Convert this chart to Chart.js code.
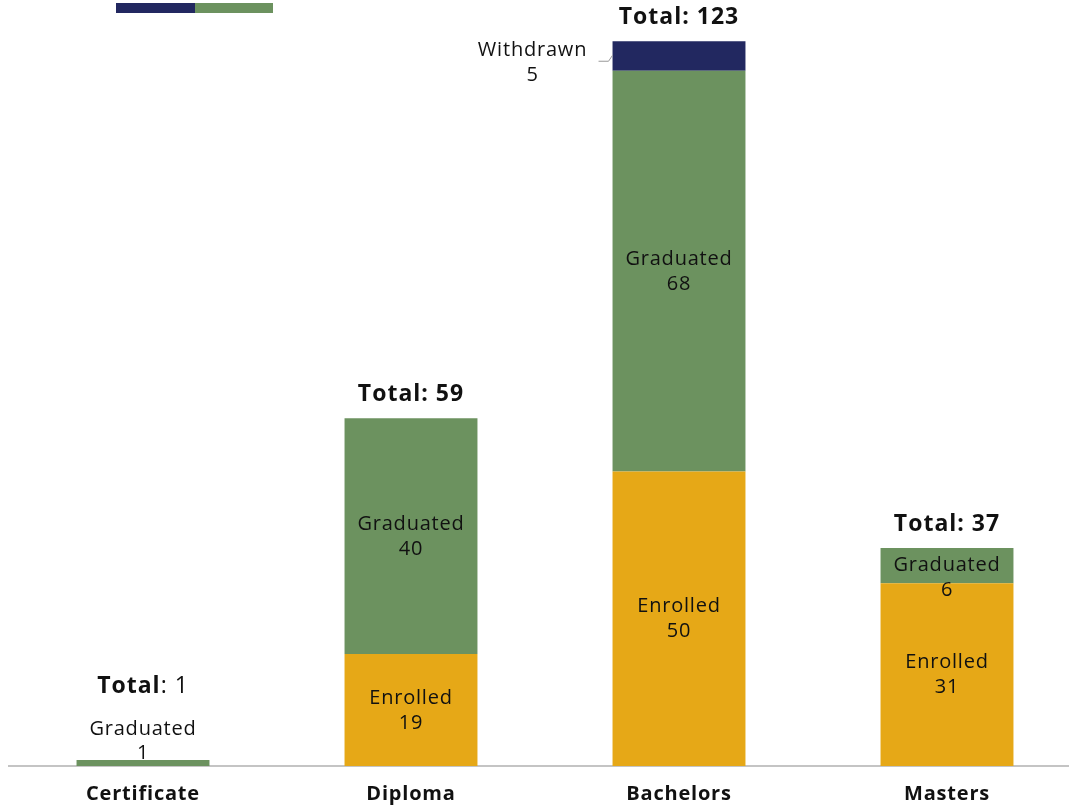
<!DOCTYPE html>
<html>
<head>
<meta charset="utf-8">
<script src="https://cdn.jsdelivr.net/npm/chart.js@4/dist/chart.umd.min.js"></script>
<style>
  html, body { margin:0; padding:0; background:#fff; overflow:hidden; }
  #wrap { width:1090px; height:806px; }
</style>
</head>
<body>
<div id="wrap"><canvas id="grafico"></canvas></div>
<script>
const categorias = ['Certificate','Diploma','Bachelors','Masters'];
const enrolled   = [0, 19, 50, 31];
const graduated  = [1, 40, 68, 6];
const withdrawn  = [0, 0, 5, 0];
const yMax = 130;

const cores = { enrolled:'#E6A817', graduated:'#6C925F', withdrawn:'#222860' };
const fonte = '"Open Sans", sans-serif';

// espacamento das letras (fonte original e mais larga)
const espaco = {
  id:'espaco',
  beforeDraw(chart){ chart.ctx.letterSpacing = '0.8px'; }
};

// rotulos dentro das barras + totais
const rotulos = {
  id:'rotulos',
  afterDatasetsDraw(chart){
    const ctx = chart.ctx;
    ctx.save();
    ctx.textAlign = 'center';
    ctx.textBaseline = 'middle';
    ctx.letterSpacing = '0.8px';
    chart.data.datasets.forEach((ds, di) => {
      const meta = chart.getDatasetMeta(di);
      meta.data.forEach((bar, i) => {
        const v = ds.data[i];
        if (!v) return;
        ctx.font = '20px ' + fonte;
        ctx.fillStyle = '#111';
        const alto = bar.base - bar.y;
        if (ds.label === 'Withdrawn') {
          // fora da barra, com linha guia
          const xl = bar.x - bar.width/2;
          ctx.strokeStyle = '#999';
          ctx.lineWidth = 1;
          ctx.beginPath();
          ctx.moveTo(xl - 14, bar.y + 20);
          ctx.lineTo(xl - 4, bar.y + 20);
          ctx.lineTo(xl, bar.y + 14);
          ctx.stroke();
          ctx.fillText(ds.label, xl - 80, bar.y + 9);
          ctx.fillText(v, xl - 80, bar.y + 34);
        } else if (alto < 20) {
          ctx.fillText(ds.label, bar.x, bar.y - 31);
          ctx.fillText(v, bar.x, bar.y - 7);
        } else if (alto < 60) {
          ctx.fillText(ds.label, bar.x, bar.y + alto/2);
          ctx.fillText(v, bar.x, bar.y + alto/2 + 25);
        } else {
          const c = bar.y + alto/2;
          ctx.fillText(ds.label, bar.x, c - 12);
          ctx.fillText(v, bar.x, c + 13);
        }
      });
    });
    // totais
    ctx.letterSpacing = '1px';
    categorias.forEach((c, i) => {
      const total = enrolled[i] + graduated[i] + withdrawn[i];
      const x = chart.scales.x.getPixelForValue(i);
      let y = chart.scales.y.getPixelForValue(total) - 24;
      if (total < 5) {
        y -= 50;
        ctx.font = 'bold 23px ' + fonte;
        const w1 = ctx.measureText('Total').width;
        ctx.font = '23px ' + fonte;
        const w2 = ctx.measureText(': ' + total).width;
        const x0 = x - (w1 + w2)/2;
        ctx.textAlign = 'left';
        ctx.font = 'bold 23px ' + fonte;
        ctx.fillText('Total', x0, y);
        ctx.font = '23px ' + fonte;
        ctx.fillText(': ' + total, x0 + w1, y);
        ctx.textAlign = 'center';
      } else {
        ctx.font = 'bold 23px ' + fonte;
        ctx.fillText('Total: ' + total, x, y);
      }
    });
    ctx.restore();
  }
};

// legenda cortada no topo
const legendaTopo = {
  id:'legendaTopo',
  afterDraw(chart){
    const ctx = chart.ctx;
    ctx.fillStyle = cores.withdrawn;
    ctx.fillRect(116, 3, 79, 10);
    ctx.fillStyle = cores.graduated;
    ctx.fillRect(195, 3, 78, 10);
  }
};

new Chart(document.getElementById('grafico'), {
  type:'bar',
  data:{
    labels: categorias,
    datasets:[
      { label:'Enrolled',  data: enrolled,  backgroundColor: cores.enrolled },
      { label:'Graduated', data: graduated, backgroundColor: cores.graduated },
      { label:'Withdrawn', data: withdrawn, backgroundColor: cores.withdrawn }
    ]
  },
  options:{
    responsive:true,
    maintainAspectRatio:false,
    animation:false,
    layout:{ padding:{ left:9, right:9, top:0, bottom:0 } },
    datasets:{ bar:{ categoryPercentage:1, barPercentage:0.496 } },
    plugins:{ legend:{ display:false }, tooltip:{ enabled:false } },
    scales:{
      x:{
        stacked:true,
        grid:{ display:false, drawTicks:false },
        border:{ color:'#c4c4c4', width:2 },
        ticks:{ color:'#111', padding:16, font:{ family:fonte, size:20, weight:'bold' } },
        afterFit(scale){ scale.height = 40; }
      },
      y:{
        stacked:true, display:false, min:0, max:yMax
      }
    }
  },
  plugins:[espaco, rotulos, legendaTopo]
});
</script>
</body>
</html>
